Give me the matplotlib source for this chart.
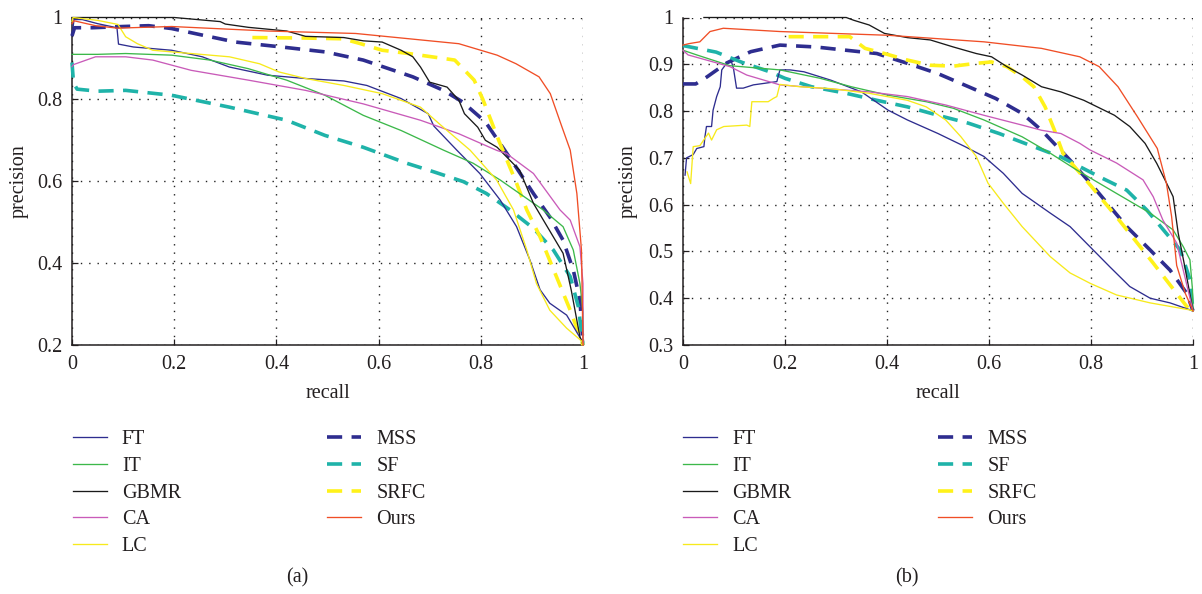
import matplotlib
matplotlib.use("Agg")
import matplotlib.pyplot as plt
from matplotlib.ticker import FuncFormatter
from matplotlib.lines import Line2D

plt.rcParams['font.family'] = ['Liberation Serif', 'DejaVu Serif']

# ---------------- panel (a) ----------------
ft_a_r = [0, 0.004, 0.02, 0.05, 0.088, 0.091, 0.12, 0.195, 0.255, 0.308, 0.383, 0.457, 0.532, 0.577,
          0.644, 0.697, 0.708, 0.753, 0.798, 0.838, 0.87, 0.896, 0.916, 0.935, 0.968, 0.997, 1.0]
ft_a_p = [0.955, 0.995, 0.995, 0.985, 0.975, 0.935, 0.928, 0.92, 0.904, 0.879, 0.859, 0.851, 0.845, 0.834,
          0.802, 0.765, 0.735, 0.676, 0.619, 0.554, 0.489, 0.408, 0.335, 0.302, 0.273, 0.212, 0.2]

it_a_r = [0, 0.05, 0.105, 0.195, 0.27, 0.345, 0.42, 0.495, 0.57, 0.644, 0.727, 0.785, 0.838, 0.922,
          0.961, 0.981, 0.994, 1.0, 1.0]
it_a_p = [0.91, 0.91, 0.912, 0.908, 0.896, 0.875, 0.847, 0.81, 0.761, 0.724, 0.676, 0.644, 0.603, 0.53,
          0.489, 0.432, 0.35, 0.28, 0.2]

gbmr_a_r = [0, 0.1, 0.2, 0.29, 0.3, 0.345, 0.42, 0.457, 0.532, 0.57, 0.607, 0.644, 0.667, 0.682, 0.70,
            0.734, 0.757, 0.768, 0.794, 0.809, 0.832, 0.876, 0.903, 0.961, 0.977, 0.994, 1.0]
gbmr_a_p = [1.0, 1.0, 1.0, 0.99, 0.984, 0.976, 0.967, 0.954, 0.951, 0.943, 0.94, 0.92, 0.904, 0.879, 0.842,
            0.83, 0.798, 0.765, 0.732, 0.70, 0.683, 0.627, 0.546, 0.424, 0.334, 0.22, 0.2]

ca_a_r = [0, 0.003, 0.046, 0.105, 0.158, 0.233, 0.345, 0.457, 0.57, 0.682, 0.757, 0.832, 0.85, 0.903,
          0.955, 0.975, 0.994, 1.0, 1.0]
ca_a_p = [0.88, 0.885, 0.904, 0.904, 0.896, 0.871, 0.847, 0.822, 0.789, 0.749, 0.716, 0.675, 0.668, 0.619,
          0.53, 0.505, 0.44, 0.35, 0.2]

lc_a_r = [0, 0.002, 0.05, 0.09, 0.105, 0.128, 0.158, 0.233, 0.308, 0.367, 0.405, 0.457, 0.532, 0.607,
          0.682, 0.719, 0.779, 0.831, 0.864, 0.89, 0.909, 0.935, 0.968, 0.997, 1.0]
lc_a_p = [0.99, 1.0, 0.993, 0.983, 0.953, 0.936, 0.92, 0.912, 0.904, 0.887, 0.867, 0.851, 0.834, 0.814,
          0.781, 0.74, 0.676, 0.603, 0.53, 0.432, 0.35, 0.285, 0.241, 0.21, 0.2]

mss_a_r = [0, 0.005, 0.04, 0.1, 0.15, 0.195, 0.255, 0.32, 0.41, 0.495, 0.57, 0.667, 0.727, 0.764, 0.809,
           0.864, 0.903, 0.935, 0.961, 0.981, 0.994, 1.0]
mss_a_p = [0.955, 0.975, 0.975, 0.978, 0.98, 0.973, 0.957, 0.94, 0.928, 0.916, 0.896, 0.855, 0.822, 0.794,
           0.745, 0.644, 0.57, 0.513, 0.456, 0.383, 0.31, 0.2]

sf_a_r = [0, 0.003, 0.01, 0.05, 0.105, 0.195, 0.308, 0.42, 0.495, 0.57, 0.655, 0.708, 0.766, 0.811,
          0.857, 0.903, 0.942, 0.975, 0.991, 1.0]
sf_a_p = [0.89, 0.84, 0.825, 0.82, 0.822, 0.81, 0.781, 0.749, 0.712, 0.683, 0.644, 0.623, 0.599, 0.57,
          0.53, 0.485, 0.432, 0.367, 0.293, 0.2]

srfc_a_r = [0.353, 0.45, 0.53, 0.562, 0.607, 0.659, 0.704, 0.749, 0.787, 0.804, 0.835, 0.87, 0.89, 0.916,
            0.948, 0.975, 0.994, 1.0]
srfc_a_p = [0.951, 0.95, 0.948, 0.937, 0.92, 0.912, 0.904, 0.896, 0.847, 0.8, 0.7, 0.595, 0.53, 0.464,
            0.367, 0.285, 0.22, 0.2]

ours_a_r = [0, 0.004, 0.046, 0.088, 0.195, 0.383, 0.555, 0.757, 0.832, 0.869, 0.914, 0.936, 0.959, 0.975,
            0.988, 0.997, 1.0]
ours_a_p = [0.985, 0.992, 0.98, 0.974, 0.978, 0.967, 0.961, 0.936, 0.908, 0.887, 0.855, 0.814, 0.732, 0.676,
            0.57, 0.432, 0.2]

# ---------------- panel (b) ----------------
ft_b_r = [0.004, 0.007, 0.02, 0.027, 0.041, 0.043, 0.046, 0.056, 0.059, 0.066, 0.073, 0.076, 0.086, 0.094,
          0.099, 0.105, 0.118, 0.138, 0.184, 0.19, 0.21, 0.237, 0.29, 0.35, 0.402, 0.44, 0.5, 0.553, 0.59,
          0.628, 0.665, 0.72, 0.759, 0.798, 0.837, 0.876, 0.916, 0.955, 1.0]
ft_b_p = [0.663, 0.70, 0.707, 0.72, 0.724, 0.745, 0.767, 0.767, 0.802, 0.831, 0.852, 0.888, 0.903, 0.909,
          0.891, 0.849, 0.849, 0.856, 0.863, 0.888, 0.888, 0.884, 0.866, 0.841, 0.802, 0.781, 0.752, 0.724, 0.703,
          0.667, 0.624, 0.582, 0.553, 0.51, 0.467, 0.425, 0.40, 0.39, 0.373]

it_b_r = [0, 0.027, 0.092, 0.19, 0.269, 0.33, 0.402, 0.477, 0.53, 0.59, 0.665, 0.72, 0.772, 0.85, 0.916,
          0.961, 0.981, 0.994, 0.999, 1.0]
it_b_p = [0.93, 0.92, 0.897, 0.888, 0.87, 0.852, 0.834, 0.82, 0.806, 0.781, 0.745, 0.71, 0.674, 0.624, 0.582,
          0.546, 0.51, 0.482, 0.418, 0.373]

gbmr_b_r = [0.041, 0.2, 0.32, 0.335, 0.365, 0.395, 0.44, 0.485, 0.53, 0.575, 0.605, 0.635, 0.665, 0.703,
            0.741, 0.786, 0.846, 0.876, 0.906, 0.929, 0.945, 0.961, 0.971, 0.984, 1.0]
gbmr_b_p = [1.0, 1.0, 1.0, 0.994, 0.984, 0.966, 0.957, 0.952, 0.937, 0.923, 0.916, 0.895, 0.877, 0.852,
            0.841, 0.823, 0.791, 0.767, 0.731, 0.688, 0.653, 0.617, 0.539, 0.467, 0.373]

ca_b_r = [0, 0.01, 0.092, 0.125, 0.19, 0.269, 0.365, 0.44, 0.515, 0.59, 0.665, 0.703, 0.741, 0.778, 0.798,
          0.85, 0.902, 0.922, 0.941, 0.968, 0.984, 1.0]
ca_b_p = [0.93, 0.92, 0.895, 0.877, 0.856, 0.849, 0.841, 0.831, 0.813, 0.791, 0.77, 0.759, 0.752, 0.731, 0.717,
          0.689, 0.653, 0.617, 0.567, 0.518, 0.446, 0.373]

lc_b_r = [0.008, 0.015, 0.02, 0.033, 0.05, 0.056, 0.066, 0.08, 0.125, 0.131, 0.135, 0.167, 0.177, 0.184,
          0.19, 0.229, 0.29, 0.365, 0.44, 0.477, 0.515, 0.545, 0.575, 0.598, 0.628, 0.665, 0.72, 0.759, 0.798,
          0.85, 0.916, 0.994, 1.0]
lc_b_p = [0.67, 0.645, 0.724, 0.726, 0.753, 0.738, 0.76, 0.767, 0.77, 0.767, 0.82, 0.82, 0.827, 0.831,
          0.857, 0.852, 0.848, 0.838, 0.823, 0.809, 0.781, 0.745, 0.703, 0.646, 0.603, 0.553, 0.489, 0.454, 0.432,
          0.407, 0.39, 0.375, 0.373]

mss_b_r = [0, 0.025, 0.047, 0.086, 0.133, 0.19, 0.26, 0.32, 0.38, 0.44, 0.5, 0.56, 0.613, 0.665, 0.703,
           0.759, 0.805, 0.87, 0.916, 0.955, 0.988, 1.0]
mss_b_p = [0.858, 0.858, 0.873, 0.903, 0.927, 0.941, 0.937, 0.93, 0.923, 0.902, 0.88, 0.852, 0.827, 0.795,
           0.759, 0.695, 0.638, 0.553, 0.503, 0.46, 0.41, 0.373]

sf_b_r = [0, 0.065, 0.116, 0.17, 0.2, 0.252, 0.32, 0.38, 0.44, 0.5, 0.56, 0.62, 0.68, 0.741, 0.821, 0.87,
          0.909, 0.942, 0.975, 0.994, 1.0]
sf_b_p = [0.94, 0.926, 0.904, 0.884, 0.87, 0.852, 0.838, 0.823, 0.809, 0.791, 0.774, 0.752, 0.727, 0.702,
          0.657, 0.631, 0.589, 0.546, 0.503, 0.44, 0.373]

srfc_b_r = [0.207, 0.327, 0.357, 0.395, 0.44, 0.485, 0.53, 0.575, 0.605, 0.635, 0.665, 0.688, 0.71, 0.728,
            0.745, 0.8, 0.85, 0.922, 0.988, 1.0]
srfc_b_p = [0.959, 0.959, 0.934, 0.923, 0.909, 0.898, 0.896, 0.902, 0.905, 0.895, 0.873, 0.852, 0.809, 0.76,
            0.71, 0.64, 0.574, 0.475, 0.382, 0.373]

ours_b_r = [0, 0.011, 0.033, 0.053, 0.079, 0.19, 0.402, 0.59, 0.703, 0.778, 0.816, 0.853, 0.891, 0.93,
            0.948, 0.958, 0.968, 0.985, 1.0]
ours_b_p = [0.941, 0.944, 0.948, 0.97, 0.977, 0.97, 0.962, 0.948, 0.934, 0.916, 0.895, 0.852, 0.788, 0.72,
            0.645, 0.575, 0.47, 0.41, 0.373]

labels = ["FT", "IT", "GBMR", "CA", "LC", "MSS", "SF", "SRFC", "Ours"]
colors = ["#2e2d8f", "#3cb84a", "#1a1a1a", "#c95bb9", "#f7ea1c",
          "#2e2d8f", "#1fb3a9", "#fff21a", "#f04e26"]
dashed = [False, False, False, False, False, True, True, True, False]

series_a = [(ft_a_r, ft_a_p), (it_a_r, it_a_p), (gbmr_a_r, gbmr_a_p), (ca_a_r, ca_a_p), (lc_a_r, lc_a_p),
            (mss_a_r, mss_a_p), (sf_a_r, sf_a_p), (srfc_a_r, srfc_a_p), (ours_a_r, ours_a_p)]
series_b = [(ft_b_r, ft_b_p), (it_b_r, it_b_p), (gbmr_b_r, gbmr_b_p), (ca_b_r, ca_b_p), (lc_b_r, lc_b_p),
            (mss_b_r, mss_b_p), (sf_b_r, sf_b_p), (srfc_b_r, srfc_b_p), (ours_b_r, ours_b_p)]

# draw order: dashed curves first, then the thin solid curves
draw_order = [5, 6, 7, 0, 1, 2, 3, 4, 8]

FS = 14.5
TXT = "#231f20"
SOLID_LW = 0.95
DASH_LW = 2.6
DASH = (4.2, 2.6)


def style(i):
    if dashed[i]:
        return dict(color=colors[i], lw=DASH_LW, linestyle=(0, DASH), solid_capstyle='butt',
                    dash_capstyle='butt')
    return dict(color=colors[i], lw=SOLID_LW, linestyle='-')


def make_panel(ax, series, ymin, yticks):
    for i in draw_order:
        r, p = series[i]
        ax.plot(r, p, clip_on=False, zorder=3 if dashed[i] else 4, **style(i))
    ax.set_xlim(0, 1)
    ax.set_ylim(ymin, 1)
    ax.set_xticks([0, 0.2, 0.4, 0.6, 0.8, 1.0])
    ax.set_yticks(yticks)
    fmt = FuncFormatter(lambda v, pos: f"{v:g}")
    ax.xaxis.set_major_formatter(fmt)
    ax.yaxis.set_major_formatter(fmt)
    ax.grid(True, linestyle=(0, (1, 5)), color="#222222", lw=1.0)
    ax.spines['top'].set_visible(False)
    ax.spines['right'].set_visible(False)
    for s in ('left', 'bottom'):
        ax.spines[s].set_linewidth(1.1)
        ax.spines[s].set_color(TXT)
    ax.tick_params(direction='in', length=4, width=0.9, labelsize=FS, pad=7, colors=TXT,
                   top=False, right=False)
    ax.set_xlabel("recall", fontsize=FS, color=TXT)
    ax.set_ylabel("precision", fontsize=FS, color=TXT)
    ax.xaxis.label.set_va('center')
    ax.yaxis.label.set_va('center')


W, H = 1202, 594
fig = plt.figure(figsize=(W / 100, H / 100), dpi=100)
ax_a = fig.add_axes([72 / W, (H - 345) / H, 511 / W, 327.5 / H])
ax_b = fig.add_axes([683 / W, (H - 345) / H, 510 / W, 327.5 / H])

make_panel(ax_a, series_a, 0.2, [0.2, 0.4, 0.6, 0.8, 1.0])
make_panel(ax_b, series_b, 0.3, [0.3, 0.4, 0.5, 0.6, 0.7, 0.8, 0.9, 1.0])

ax_a.xaxis.set_label_coords(0.5, (345 - 393) / 327.5)
ax_b.xaxis.set_label_coords(0.5, (345 - 393) / 327.5)
ax_a.yaxis.set_label_coords((19 - 72) / 511, 0.5)
ax_b.yaxis.set_label_coords((628 - 683) / 510, 0.5)

handles = [Line2D([], [], **style(i)) for i in range(len(labels))]

leg_kw = dict(loc='upper left', frameon=False, fontsize=FS, handlelength=1.7, handletextpad=0.75,
              labelspacing=0.38, borderpad=0, borderaxespad=0, labelcolor=TXT)
leg_top = 1 - 430 / H
for x0, x1 in [(72.5, 327), (683, 938)]:
    fig.legend(handles[:5], labels[:5], bbox_to_anchor=(x0 / W, leg_top), **leg_kw)
    fig.legend(handles[5:], labels[5:], bbox_to_anchor=(x1 / W, leg_top), **leg_kw)

fig.text(297 / W, 1 - 578 / H, "(a)", ha='center', va='center', fontsize=FS, color=TXT)
fig.text(907 / W, 1 - 578 / H, "(b)", ha='center', va='center', fontsize=FS, color=TXT)

fig.savefig("out.png", dpi=100, facecolor='white')
